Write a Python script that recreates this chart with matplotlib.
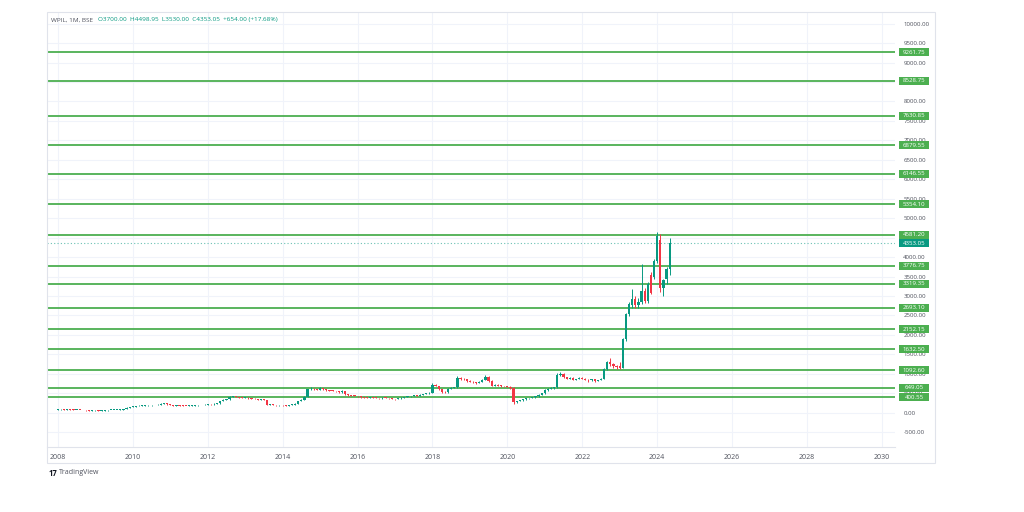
import matplotlib
matplotlib.use("Agg")
import matplotlib.pyplot as plt
import matplotlib.transforms as mtransforms
from matplotlib.patches import Rectangle

plt.rcParams['font.family'] = ['Open Sans', 'DejaVu Sans']

# Monthly WPIL (BSE) candles, Jan 2008 - May 2024
opens = [
    80, 85, 90, 80, 85, 80, 75, 75, 70, 65, 60, 55,
    60, 60, 55, 55, 60, 70, 70, 75, 75, 80, 90, 130,
    150, 160, 170, 180, 185, 190, 190, 200, 195, 210, 230, 240,
    215, 200, 180, 190, 185, 180, 175, 180, 185, 190, 200, 195,
    210, 220, 215, 230, 240, 300, 330, 350, 410, 420, 400, 390,
    380, 390, 370, 360, 350, 340, 350, 330, 200, 210, 200, 190,
    200, 190, 180, 200, 210, 230, 300, 340, 410, 600, 620, 600,
    590, 630, 600, 580, 570, 560, 550, 530, 560, 470, 450, 440,
    430, 420, 400, 390, 380, 400, 390, 380, 370, 390, 380, 370,
    360, 350, 370, 390, 400, 420, 430, 450, 430, 460, 480, 500,
    520, 720, 690, 600, 540, 530, 620, 640, 650, 900, 870, 860,
    820, 800, 780, 770, 800, 850, 930, 820, 700, 720, 700, 690,
    680, 660, 640, 280, 300, 320, 350, 370, 380, 400, 420, 460,
    500, 580, 620, 640, 650, 980, 1000, 920, 880, 900, 850, 870,
    900, 880, 850, 830, 860, 820, 840, 880, 1120, 1300, 1250, 1200,
    1200, 1160, 1890, 2530, 2760, 2920, 2760, 2850, 3130, 2880, 3550, 3480,
    3900, 4450, 3200, 3440, 3700,
]
highs = [
    95, 100, 95, 90, 90, 85, 80, 80, 75, 70, 65, 65,
    65, 65, 60, 65, 75, 80, 80, 80, 85, 95, 140, 160,
    170, 180, 190, 195, 200, 200, 210, 210, 220, 240, 260, 245,
    220, 205, 200, 195, 190, 185, 190, 195, 200, 210, 205, 220,
    230, 230, 240, 250, 310, 345, 365, 430, 440, 425, 405, 400,
    400, 395, 380, 370, 360, 360, 355, 335, 220, 220, 210, 210,
    210, 195, 210, 220, 240, 310, 350, 420, 620, 650, 640, 610,
    650, 640, 610, 590, 580, 570, 560, 580, 565, 480, 460, 450,
    440, 425, 410, 395, 410, 405, 395, 385, 400, 395, 385, 375,
    365, 380, 400, 410, 430, 440, 460, 455, 470, 490, 510, 530,
    760, 740, 700, 610, 560, 630, 660, 670, 950, 920, 890, 870,
    830, 820, 800, 810, 870, 960, 940, 830, 740, 730, 710, 700,
    700, 680, 650, 310, 330, 360, 380, 390, 410, 430, 470, 520,
    600, 640, 660, 670, 1010, 1040, 1010, 930, 920, 910, 880, 920,
    910, 890, 860, 880, 870, 850, 900, 1140, 1340, 1420, 1270, 1220,
    1300, 1920, 2560, 2850, 3180, 3000, 2950, 3820, 3200, 3350, 3620, 3950,
    4640, 4600, 3450, 3750, 4498.95,
]
lows = [
    75, 80, 75, 75, 75, 70, 70, 65, 60, 55, 50, 50,
    55, 50, 50, 50, 55, 65, 65, 70, 70, 75, 85, 125,
    145, 155, 165, 175, 180, 180, 185, 190, 190, 205, 225, 210,
    195, 175, 175, 180, 175, 170, 170, 175, 180, 185, 190, 190,
    205, 210, 210, 225, 235, 290, 320, 340, 395, 395, 385, 375,
    370, 365, 355, 345, 335, 330, 325, 190, 195, 195, 185, 185,
    185, 175, 175, 195, 205, 225, 290, 330, 400, 580, 590, 580,
    580, 590, 570, 560, 550, 540, 520, 520, 460, 440, 430, 420,
    410, 390, 380, 370, 375, 380, 370, 360, 365, 370, 360, 350,
    340, 345, 365, 385, 395, 415, 425, 420, 425, 455, 475, 495,
    510, 680, 580, 520, 510, 520, 610, 630, 640, 850, 840, 800,
    780, 760, 750, 760, 790, 840, 800, 680, 690, 680, 670, 660,
    650, 620, 220, 260, 290, 310, 340, 360, 370, 390, 410, 450,
    490, 570, 600, 620, 640, 950, 900, 860, 860, 840, 830, 860,
    860, 830, 800, 820, 800, 810, 830, 870, 1100, 1200, 1150, 1120,
    1120, 1150, 1850, 2480, 2700, 2700, 2700, 2800, 2820, 2830, 3050, 3450,
    3850, 3100, 3000, 3300, 3530,
]
closes = [
    85, 90, 80, 85, 80, 75, 75, 70, 65, 60, 55, 60,
    60, 55, 55, 60, 70, 70, 75, 75, 80, 90, 130, 150,
    160, 170, 180, 185, 190, 190, 200, 195, 210, 230, 240, 215,
    200, 180, 190, 185, 180, 175, 180, 185, 190, 200, 195, 210,
    220, 215, 230, 240, 300, 330, 350, 410, 420, 400, 390, 380,
    390, 370, 360, 350, 340, 350, 330, 200, 210, 200, 190, 200,
    190, 180, 200, 210, 230, 300, 340, 410, 600, 620, 600, 590,
    630, 600, 580, 570, 560, 550, 530, 560, 470, 450, 440, 430,
    420, 400, 390, 380, 400, 390, 380, 370, 390, 380, 370, 360,
    350, 370, 390, 400, 420, 430, 450, 430, 460, 480, 500, 520,
    720, 690, 600, 540, 530, 620, 640, 650, 900, 870, 860, 820,
    800, 780, 770, 800, 850, 930, 820, 700, 720, 700, 690, 680,
    660, 640, 280, 300, 320, 350, 370, 380, 400, 420, 460, 500,
    580, 620, 640, 650, 980, 1000, 920, 880, 900, 850, 870, 900,
    880, 850, 830, 860, 820, 840, 880, 1120, 1300, 1250, 1200, 1170,
    1160, 1890, 2530, 2790, 2920, 2760, 2850, 3130, 2880, 3300, 3080, 3900,
    4550, 3200, 3400, 3700, 4353.05,
]

# support / resistance levels drawn on the chart
levels = [9261.75, 8528.75, 7630.85, 6879.55, 6146.55, 5354.10, 4581.20,
          3776.75, 3319.35, 2693.10, 2152.15, 1632.50, 1092.60, 649.05, 400.55]
last_price = 4353.05

year_ticks = list(range(2008, 2031, 2))
price_ticks = list(range(-500, 10001, 500))

header = "WPIL, 1M, BSE"
header_vals = "O3700.00  H4498.95  L3530.00  C4353.05  +654.00 (+17.68%)"

up_col = '#089981'
down_col = '#f23645'
level_col = '#4caf50'
grid_col = '#f0f3fa'
text_col = '#50535e'

fig = plt.figure(figsize=(10.24, 5.12), dpi=100)
ax = fig.add_axes([47 / 1024, 1 - 447 / 512, 848 / 1024, 435 / 512])

x = [2008 + i / 12 for i in range(len(closes))]

for xi, o, h, l, c in zip(x, opens, highs, lows, closes):
    col = up_col if c >= o else down_col
    ax.vlines(xi, l, h, color=col, linewidth=0.7, zorder=3)
    body = max(abs(c - o), 14)
    ax.bar(xi, body, bottom=min(o, c), width=0.06, color=col,
           linewidth=0, zorder=4)

ax.set_xlim(2007.71, 2030.35)
ax.set_ylim(-880, 10300)

for lv in levels:
    ax.axhline(lv, color=level_col, linewidth=1.3, zorder=2)
ax.axhline(last_price, color=up_col, linewidth=0.8, linestyle=(0, (1, 2)),
           alpha=0.6, zorder=2)

ax.set_xticks(year_ticks)
ax.set_xticklabels([str(y) for y in year_ticks])
ax.set_yticks(price_ticks)
ax.set_yticklabels([f"{p:.2f}" for p in price_ticks])
ax.yaxis.tick_right()
ax.tick_params(axis='y', length=0, pad=6, labelsize=4.4, labelcolor=text_col)
ax.tick_params(axis='x', length=0, pad=5, labelsize=5, labelcolor=text_col)
ax.grid(True, color=grid_col, linewidth=0.8, zorder=0)
ax.set_axisbelow(True)
for s in ax.spines.values():
    s.set_visible(False)
ax.spines['bottom'].set_visible(True)
ax.spines['bottom'].set_color('#e0e3eb')
ax.spines['bottom'].set_linewidth(0.8)

# price labels on the right scale: fixed-size boxes like the reference
trans = mtransforms.blended_transform_factory(ax.transAxes, ax.transData)
box_x0 = (899 - 47) / 848
box_w = 30 / 848
box_h = 8 * (10300 + 880) / 435


def price_tag(value, colour):
    ax.add_patch(Rectangle((box_x0, value - box_h / 2), box_w, box_h,
                           transform=trans, fc=colour, ec='none',
                           clip_on=False, zorder=6))
    ax.text(box_x0 + box_w / 2, value, f"{value:.2f}", transform=trans,
            fontsize=4.4, color='white', va='center', ha='center',
            zorder=7, clip_on=False)


for lv in levels:
    price_tag(lv, level_col)
price_tag(last_price, up_col)

# outer frame of the chart widget
fig.add_artist(Rectangle((47 / 1024, 1 - 463 / 512), 888 / 1024, 451 / 512,
                         transform=fig.transFigure, fill=False,
                         ec='#e0e3eb', lw=0.8))

fig.text(51 / 1024, 1 - 20 / 512, header, fontsize=4.6, color=text_col,
         va='center')
fig.text(98 / 1024, 1 - 20 / 512, header_vals, fontsize=4.6, color=up_col,
         va='center')

fig.text(49 / 1024, 1 - 473 / 512, "17", fontsize=5.5, fontweight='bold',
         color='#131722', va='center')
fig.text(59 / 1024, 1 - 473 / 512, "TradingView", fontsize=5,
         color=text_col, va='center')

fig.savefig("out.png", dpi=100, facecolor='white')
